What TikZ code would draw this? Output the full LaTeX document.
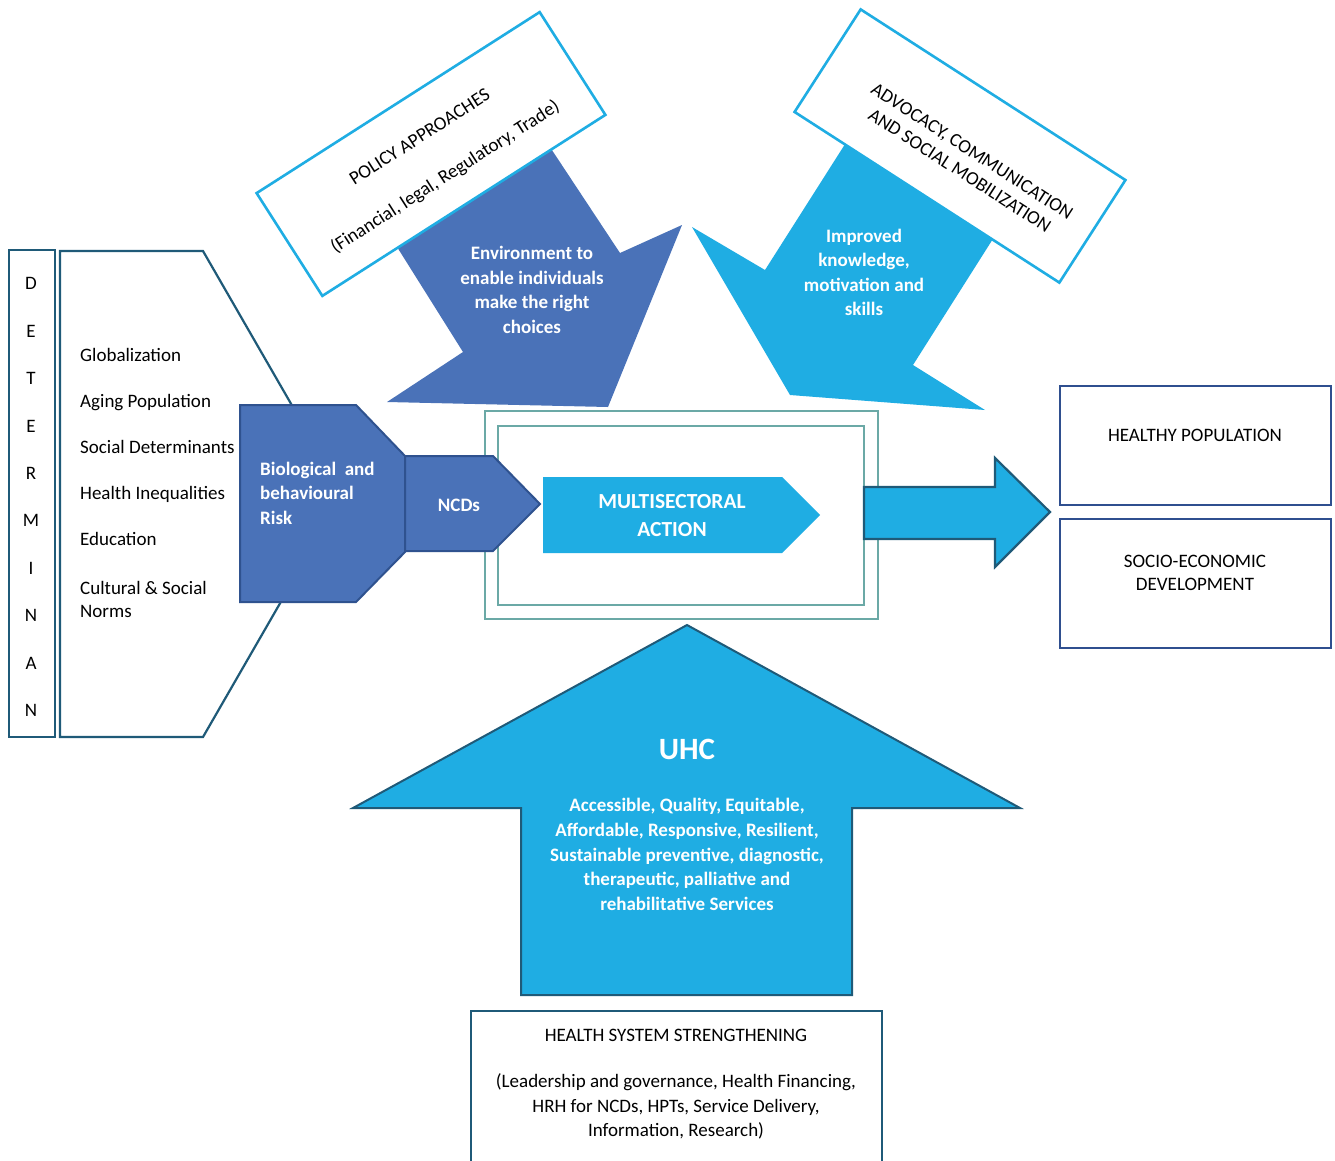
\documentclass[tikz,border=0pt]{standalone}
\usepackage{fontspec}
\setmainfont{Carlito}
\definecolor{dblue}{HTML}{4A72B8}
\definecolor{dblueb}{HTML}{2F528F}
\definecolor{cyanb}{HTML}{1FADE3}
\definecolor{tealdk}{HTML}{1F5A78}
\definecolor{teallt}{HTML}{6BA9A6}
\definecolor{navyb}{HTML}{2F4F8F}
\begin{document}
\begin{tikzpicture}[x=1pt,y=-1pt,
  wtxt/.style={text=white,font=\fontsize{19}{24.5}\selectfont\bfseries,align=center,inner sep=0pt},
  btxt/.style={text=black,font=\fontsize{19}{23}\selectfont,inner sep=0pt},
  item/.style={btxt,anchor=mid west},
  letter/.style={btxt,anchor=mid},
  outbox/.style={draw=navyb,line width=2.2pt,fill=white},
  rotbox/.style={draw=cyanb,line width=2.6pt,fill=white,inner sep=0pt,minimum height=122pt}]
\useasboundingbox (0,0) rectangle (1335,1160);
\fill[white] (0,0) rectangle (1335,1160);

% Determinants column
\draw[tealdk,line width=2.4pt] (9,250) rectangle (55,737);
\foreach \l [count=\i from 0] in {D,E,T,E,R,M,I,N,A,N}
  \node[letter] (det\i) at (31,{287.5+47.4*\i}) {\l};

% pentagon of determinants
\draw[tealdk,line width=2.2pt,fill=white] (60,251) -- (203,251) -- (343,494) -- (203,737) -- (60,737) -- cycle;
\node[item] (glob) at (80,359.5) {Globalization};
\node[item] (aging) at (80,405.5) {Aging Population};
\node[item] (sdet) at (80,451.5) {Social Determinants};
\node[item] (hineq) at (80,497.5) {Health Inequalities};
\node[item] (edu) at (80,543.5) {Education};
\node[btxt,anchor=west,align=left] (cult) at (80,599) {Cultural \& Social\\Norms};

% multisectoral action frame
\draw[teallt,line width=2.6pt] (485,411) rectangle (878,619);
\draw[teallt,line width=2.6pt] (498,426) rectangle (864,605);

% biological and behavioural risk
\draw[dblueb,line width=2pt,fill=dblue] (240,405) -- (356,405) -- (405,456) -- (405,552) -- (356,602) -- (240,602) -- cycle;
\node[wtxt,align=left,anchor=west] (bio) at (260,493) {Biological~~and\\behavioural\\Risk};
\draw[dblueb,line width=2pt,fill=dblue] (405,456) -- (493,456) -- (540,504) -- (493,551) -- (405,551) -- cycle;
\node[wtxt,anchor=mid] (ncd) at (459,509) {NCDs};

% policy arrow and box
\fill[dblue] (542,135) -- (620,253) -- (682,225) -- (608,407) -- (387,402) -- (463,352) -- (387,231) -- cycle;
\node[rotbox,rotate=32.6,minimum width=336pt] (policy) at (431,154) {};
\node[btxt,align=center,rotate=32.6] (policytxt) at (433,158) {POLICY APPROACHES\\[24pt](Financial, legal, Regulatory, Trade)};
\node[wtxt] (env) at (532,290) {Environment to\\enable individuals\\make the right\\choices};

% advocacy arrow and box
\fill[cyanb] (854,130) -- (1003,223) -- (913,365) -- (985,410) -- (790,395) -- (692,227) -- (765,270) -- cycle;
\node[rotbox,rotate=-32.8,minimum width=315pt] (advoc) at (960,146) {};
\node[btxt,align=center,rotate=-32.8] (advoctxt) at (966,161) {ADVOCACY, COMMUNICATION\\AND SOCIAL MOBILIZATION};
\node[wtxt] (improved) at (864,272.5) {Improved\\knowledge,\\motivation and\\skills};

% multisectoral action
\fill[cyanb] (543,477) -- (782,477) -- (820,515) -- (782,553) -- (543,553) -- cycle;
\node[wtxt,font=\fontsize{21.5}{28}\selectfont\bfseries] (msa) at (672,516) {MULTISECTORAL\\ACTION};

% outcome arrow
\draw[tealdk,line width=2.2pt,fill=cyanb] (864,487) -- (995,487) -- (995,458) -- (1050,512) -- (995,567) -- (995,539) -- (864,539) -- cycle;

% outcome boxes
\draw[outbox] (1060,386) rectangle (1331,505);
\node[btxt,anchor=mid] (healthy) at (1195,439.5) {HEALTHY POPULATION};
\draw[outbox] (1060,519) rectangle (1331,648);
\node[btxt,align=center] (socio) at (1195,573) {SOCIO-ECONOMIC\\DEVELOPMENT};

% UHC arrow
\draw[tealdk,line width=2pt,fill=cyanb] (687,625) -- (1020,808) -- (852,808) -- (852,995) -- (521,995) -- (521,808) -- (353,808) -- cycle;
\node[wtxt,anchor=mid,font=\fontsize{31}{36}\selectfont\bfseries] (uhc) at (687,757) {UHC};
\node[wtxt,font=\fontsize{19}{24.7}\selectfont\bfseries] (uhctxt) at (687,854.5) {Accessible, Quality, Equitable,\\Affordable, Responsive, Resilient,\\Sustainable preventive, diagnostic,\\therapeutic, palliative and\\rehabilitative Services};

% health system strengthening
\draw[tealdk,line width=2.2pt,fill=white] (471,1170) -- (471,1011) -- (882,1011) -- (882,1170);
\node[btxt,anchor=mid] (hss) at (676,1039.5) {HEALTH SYSTEM STRENGTHENING};
\node[btxt,align=center,font=\fontsize{19}{24.5}\selectfont] (hsstxt) at (676,1106.5) {(Leadership and governance, Health Financing,\\HRH for NCDs, HPTs, Service Delivery,\\Information, Research)};
\end{tikzpicture}
\end{document}
